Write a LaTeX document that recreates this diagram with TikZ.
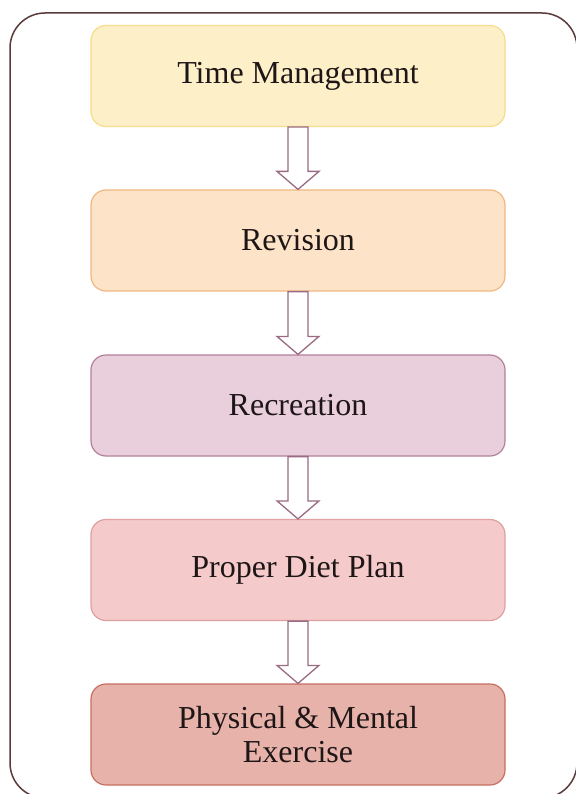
\documentclass[tikz,border=0pt]{standalone}
\usepackage{fontspec}
\setmainfont{Liberation Serif}
\usetikzlibrary{calc}
\definecolor{f1}{HTML}{FDF0C8}\definecolor{b1}{HTML}{F6DC8C}
\definecolor{f2}{HTML}{FDE3C8}\definecolor{b2}{HTML}{F0B880}
\definecolor{f3}{HTML}{E9CFDC}\definecolor{b3}{HTML}{B3809A}
\definecolor{f4}{HTML}{F5CACA}\definecolor{b4}{HTML}{E0A0A0}
\definecolor{f5}{HTML}{E6B2AA}\definecolor{b5}{HTML}{C86E60}
\definecolor{arr}{HTML}{9A6B84}
\definecolor{frame}{HTML}{5A3A3A}
\definecolor{txt}{HTML}{1E1616}
\tikzset{
  stepbox/.style={draw, line width=1.2pt, rounded corners=15pt, minimum width=414pt, minimum height=101pt,
    align=center, text=txt, font=\fontsize{32}{34}\selectfont, inner sep=0pt},
  blockarrow/.style={draw=arr, fill=white, line width=1.3pt, line join=miter},
}
\newcommand{\blockarr}[2]{%
  \draw[blockarrow] ($(#1.south)+(-10,0)$) -- ($(#1.south)+(10,0)$)
    -- ($(#2.north)+(10,-18)$) -- ($(#2.north)+(21,-18)$) -- (#2.north)
    -- ($(#2.north)+(-21,-18)$) -- ($(#2.north)+(-10,-18)$) -- cycle;}
\begin{document}
\begin{tikzpicture}[x=1pt,y=-1pt]
\useasboundingbox (0,0) rectangle (575,794);
\fill[white] (0,0) rectangle (575,794);
\draw[frame, line width=1.5pt, rounded corners=35pt] (10,13) rectangle (577,798);
\node[stepbox, fill=f1, draw=b1] (n1) at (298,76) {Time Management};
\node[stepbox, fill=f2, draw=b2] (n2) at (298,240.5) {Revision};
\node[stepbox, fill=f3, draw=b3] (n3) at (298,405.5) {Recreation};
\node[stepbox, fill=f4, draw=b4] (n4) at (298,570) {Proper Diet Plan};
\node[stepbox, fill=f5, draw=b5] (n5) at (298,734.5) {Physical \& Mental\\Exercise};
\blockarr{n1}{n2}
\blockarr{n2}{n3}
\blockarr{n3}{n4}
\blockarr{n4}{n5}
\end{tikzpicture}
\end{document}
